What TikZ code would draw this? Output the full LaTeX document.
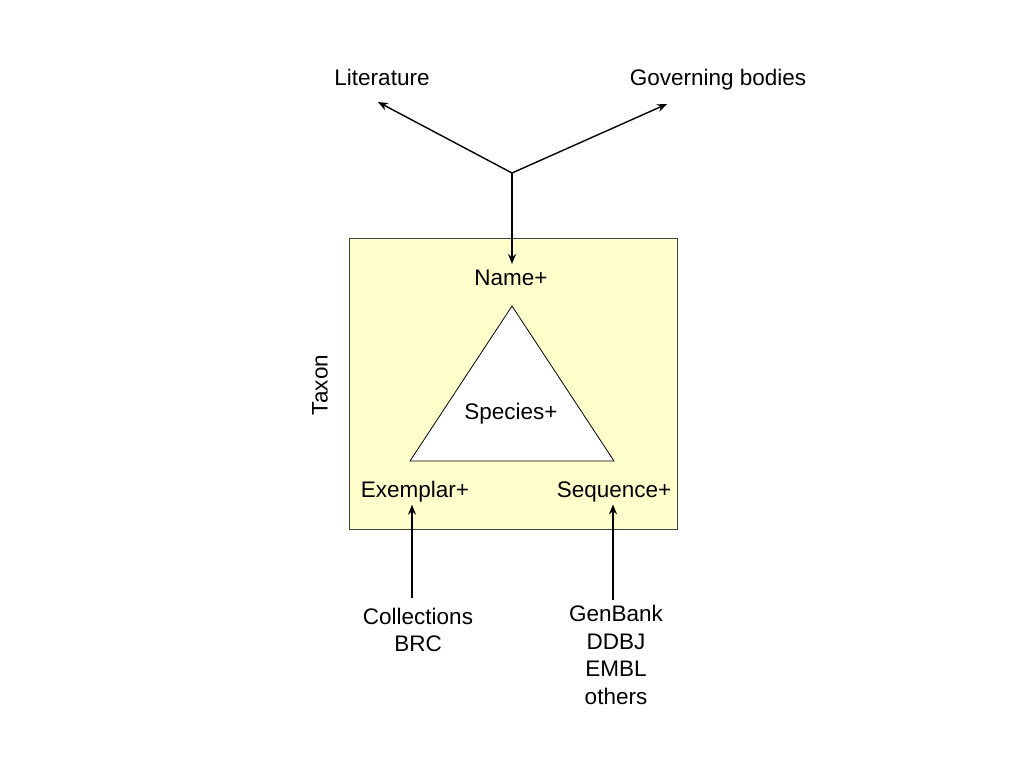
\documentclass[tikz,border=0pt]{standalone}
\usepackage{fontspec}
\setmainfont{Liberation Sans}
\usetikzlibrary{arrows.meta,positioning,calc}

\begin{document}
\begin{tikzpicture}[x=1pt,y=-1pt,
  lbl/.style={inner sep=0pt,align=center,font=\fontsize{22.5}{27.5}\selectfont},
  arr/.style={-{Stealth[length=10pt,width=8pt]},line width=1.4pt}]

\useasboundingbox (0,0) rectangle (1024,768);

% taxon box and triangle
\fill[fill={rgb,255:red,255;green,255;blue,204},draw=black!75,line width=0.8pt]
   (349,238) rectangle (677,529);

\coordinate (t1) at (512,306);
\coordinate (t2) at (410,461);
\coordinate (t3) at (614,461);
\filldraw[fill=white,draw=black,line width=0.8pt] (t1)--(t2)--(t3)--cycle;

\node[lbl] (name) at (511,278) {Name+};
\node[lbl] (spec) at (511,414) {Species+};
\node[lbl] (exem) at (415,492) {Exemplar+};
\node[lbl] (sequ) at (614,492) {Sequence+};
\node[lbl,rotate=90] (taxon) at (320,385) {Taxon};

% sources
\node[lbl] (lit) at (382,77) {Literature};
\node[lbl] (gov) at (718,80) {Governing bodies};
\node[lbl] (coll) at (418,630) {Collections\\BRC};
\node[lbl] (gen) at (616,655) {GenBank\\DDBJ\\EMBL\\others};

\coordinate (junc) at (512,173);
\coordinate (littip) at (378,102);
\coordinate (govtip) at (667,104);

\draw[arr] (junc) -- (littip);
\draw[arr] (junc) -- (govtip);
\draw[arr,shorten >=6pt] (junc) -- (junc |- name.north);

\draw[arr,shorten <=10pt,shorten >=2pt] ([xshift=-6pt]coll.north) -- ([xshift=-3pt]exem.south);
\draw[arr,shorten <=5pt,shorten >=2pt] ([xshift=-3pt]gen.north) -- ([xshift=-1pt]sequ.south);

\end{tikzpicture}
\end{document}
